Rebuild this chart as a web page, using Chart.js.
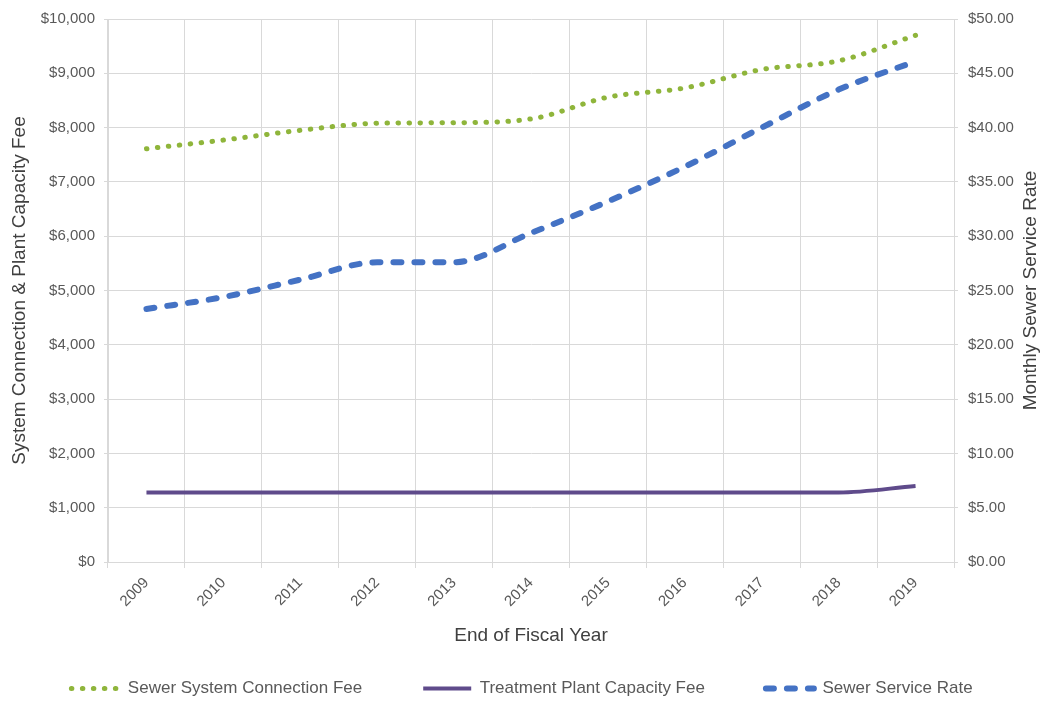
<!DOCTYPE html>
<html>
<head>
<meta charset="utf-8">
<title>Sewer Fees and Rates</title>
<script src="https://cdn.jsdelivr.net/npm/chart.js@4/dist/chart.umd.min.js"></script>
<style>
  html, body { margin: 0; padding: 0; background: #ffffff; }
  #wrap { width: 1044px; height: 707px; }
</style>
</head>
<body>
<div id="wrap"><canvas id="chart" width="1044" height="707"></canvas></div>
<script>
// Fiscal years on the category axis
const years = ['2009', '2010', '2011', '2012', '2013', '2014', '2015', '2016', '2017', '2018', '2019'];

// One-time fees, left axis (dollars)
const connectionFee = [7610, 7770, 7950, 8080, 8090, 8160, 8560, 8730, 9070, 9230, 9700];
const capacityFee   = [1280, 1280, 1280, 1280, 1280, 1280, 1280, 1280, 1280, 1280, 1400];

// Monthly service rate, right axis (dollars)
const serviceRate   = [23.3, 24.4, 26.0, 27.6, 27.6, 30.3, 33.2, 36.4, 40.0, 43.5, 46.1];

// Axis tick labels
const feeTickLabels  = ['$0', '$1,000', '$2,000', '$3,000', '$4,000', '$5,000',
                        '$6,000', '$7,000', '$8,000', '$9,000', '$10,000'];
const rateTickLabels = ['$0.00', '$5.00', '$10.00', '$15.00', '$20.00', '$25.00',
                        '$30.00', '$35.00', '$40.00', '$45.00', '$50.00'];

const FONT = "'Liberation Sans', Arial, Helvetica, sans-serif";
const GRID = '#d9d9d9';
const TICK_COLOR = '#595959';
const TITLE_COLOR = '#404040';

Chart.defaults.font.family = FONT;

// Captions that Chart.js cannot place as wanted: the x title sits below the
// legend padding, and the right title reads bottom-to-top like the left one.
const axisCaptions = {
  id: 'axisCaptions',
  afterDraw(chart) {
    const { ctx, chartArea } = chart;
    const midY = (chartArea.top + chartArea.bottom) / 2;
    ctx.save();
    ctx.fillStyle = TITLE_COLOR;
    ctx.font = "19px " + FONT;
    ctx.textAlign = 'center';
    ctx.textBaseline = 'middle';
    ctx.fillText('End of Fiscal Year', (chartArea.left + chartArea.right) / 2, chartArea.bottom + 74);
    ctx.translate(1031, midY);
    ctx.rotate(-Math.PI / 2);
    ctx.fillText('Monthly Sewer Service Rate', 0, 0);
    ctx.restore();
  }
};

// Legend swatches take the dash, width and cap of each dataset's line
function lineLegendLabels(chart) {
  const items = Chart.defaults.plugins.legend.labels.generateLabels(chart);
  items.forEach(item => {
    const ds = chart.data.datasets[item.datasetIndex];
    item.pointStyle = 'line';
    item.strokeStyle = ds.borderColor;
    item.fillStyle = ds.borderColor;
    item.lineWidth = ds.borderWidth;
    item.lineDash = ds.borderDash || [];
    item.lineCap = ds.borderCapStyle || 'butt';
  });
  return items;
}

new Chart(document.getElementById('chart'), {
  type: 'line',
  data: {
    labels: years,
    datasets: [
      {
        label: 'Sewer System Connection Fee',
        data: connectionFee,
        yAxisID: 'y',
        borderColor: '#8fb53b',
        backgroundColor: '#8fb53b',
        borderWidth: 5,
        borderDash: [0.5, 10.5],
        borderCapStyle: 'round',
        cubicInterpolationMode: 'monotone',
        pointRadius: 0
      },
      {
        label: 'Treatment Plant Capacity Fee',
        data: capacityFee,
        yAxisID: 'y',
        borderColor: '#5f4b8b',
        backgroundColor: '#5f4b8b',
        borderWidth: 4,
        cubicInterpolationMode: 'monotone',
        pointRadius: 0
      },
      {
        label: 'Sewer Service Rate',
        data: serviceRate,
        yAxisID: 'y1',
        borderColor: '#4472c4',
        backgroundColor: '#4472c4',
        borderWidth: 6,
        borderDash: [8, 13],
        borderCapStyle: 'round',
        cubicInterpolationMode: 'monotone',
        pointRadius: 0
      }
    ]
  },
  options: {
    responsive: false,
    animation: false,
    devicePixelRatio: 1,
    layout: { padding: { top: 18, left: 0, right: 0, bottom: 0 } },
    plugins: {
      legend: {
        position: 'bottom',
        labels: {
          usePointStyle: true,
          pointStyle: 'line',
          pointStyleWidth: 48,
          padding: 61,
          color: TICK_COLOR,
          font: { size: 17 },
          generateLabels: lineLegendLabels
        }
      },
      tooltip: { enabled: false }
    },
    scales: {
      x: {
        offset: true,
        grid: { offset: true, color: GRID, tickLength: 6 },
        border: { color: GRID },
        ticks: { minRotation: 45, maxRotation: 45, padding: 6, color: TICK_COLOR, font: { size: 15 } },
        afterFit(scale) { scale.height = 57; }
      },
      y: {
        position: 'left',
        min: 0,
        max: 10000,
        ticks: {
          stepSize: 1000,
          padding: 9,
          color: TICK_COLOR,
          font: { size: 15 },
          callback: (value, index) => feeTickLabels[index]
        },
        grid: { color: GRID, tickLength: 4 },
        border: { color: GRID },
        title: {
          display: true,
          text: 'System Connection & Plant Capacity Fee',
          color: TITLE_COLOR,
          font: { size: 19 },
          padding: { top: 8, bottom: 0 }
        },
        afterFit(scale) { scale.width = 108; }
      },
      y1: {
        position: 'right',
        min: 0,
        max: 50,
        ticks: {
          stepSize: 5,
          padding: 10,
          color: TICK_COLOR,
          font: { size: 15 },
          callback: (value, index) => rateTickLabels[index]
        },
        grid: { drawOnChartArea: false, color: GRID, tickLength: 4 },
        border: { color: GRID },
        afterFit(scale) { scale.width = 90; }
      }
    }
  },
  plugins: [axisCaptions]
});
</script>
</body>
</html>
